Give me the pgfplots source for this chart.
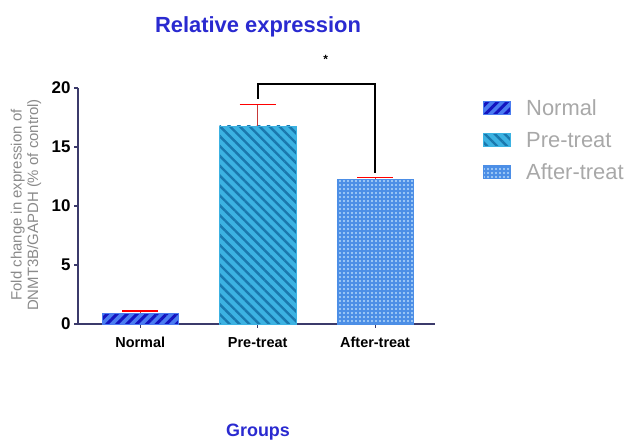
\documentclass[border=0pt]{standalone}
\usepackage{pgfplots}
\pgfplotsset{compat=1.18}
\usepackage{fontspec}
\setmainfont{Liberation Sans}
\usetikzlibrary{patterns,patterns.meta}

\definecolor{axisc}{HTML}{3B3A6B}
\definecolor{titleblue}{HTML}{2A2AD0}
\definecolor{normfill}{HTML}{4A7CF0}
\definecolor{normline}{HTML}{1414C0}
\definecolor{prefill}{HTML}{3CB2E2}
\definecolor{preline}{HTML}{1A78AE}
\definecolor{aftfill}{HTML}{4C8EE6}
\definecolor{aftdot}{HTML}{B4D8FA}
\definecolor{labgray}{HTML}{8A8A8A}
\definecolor{leggray}{HTML}{A8A8A8}

\begin{document}
\begin{tikzpicture}[x=1bp,y=1bp]
\useasboundingbox (0,0) rectangle (628,441);

\node[font=\bfseries\fontsize{22}{25}\selectfont, text=titleblue] at (258,414) {Relative expression};
\node[font=\bfseries\fontsize{18}{20}\selectfont, text=titleblue, inner sep=0pt, anchor=base] at (258,4) {Groups};
\node[rotate=90, align=center, text=labgray, font=\fontsize{15}{16.5}\selectfont] at (26,236)
  {Fold change in expression of\\DNMT3B/GAPDH (\% of control)};

\begin{axis}[
  at={(78bp,117bp)}, anchor=south west,
  scale only axis, width=357bp, height=236bp,
  xmin=-0.53, xmax=2.51, ymin=0, ymax=20,
  axis x line=bottom, axis y line=left,
  axis line style={-, axisc, line width=1.6pt},
  every tick/.style={axisc, line width=1.2pt},
  tick align=outside, major tick length=4pt,
  xtick={0,1,2}, xticklabels={Normal,Pre-treat,After-treat},
  ytick={0,5,10,15,20},
  /pgf/number format/assume math mode=true,
  x tick label style={font=\bfseries\fontsize{14.5}{16}\selectfont, yshift=-6bp},
  y tick label style={font=\bfseries\fontsize{17}{19}\selectfont},
  ybar, bar width=0.65, bar shift=0pt,
  clip=false,
  legend style={at={(1.125,0.968)}, anchor=north west, draw=none, fill=none,
    font=\fontsize{22}{24}\selectfont, text=leggray, row sep=11pt},
  legend cell align=left,
  legend image code/.code={\draw[#1] (0bp,-6bp) rectangle (27bp,7bp); \path (41bp,0bp);},
  error bars/y dir=plus, error bars/y explicit,
  error bars/error bar style={color=red!55!gray, line width=1pt},
  error bars/error mark options={red, line width=1.2pt, mark size=18bp, rotate=90},
]
\addplot[fill=normfill, draw=normfill,
  postaction={pattern={Lines[angle=45,distance=7bp,line width=3bp]}, pattern color=normline}]
  coordinates {(0,0.93) +- (0,0.17)};
\addplot[fill=prefill, draw=prefill,
  postaction={pattern={Lines[angle=-45,distance=7bp,line width=2.4bp]}, pattern color=preline}]
  coordinates {(1,16.8) +- (0,1.8)};
\addplot[fill=aftfill, draw=aftfill,
  postaction={pattern={Dots[distance=4bp,radius=1.1bp]}, pattern color=aftdot}]
  coordinates {(2,12.3) +- (0,0.12)};
\legend{Normal,Pre-treat,After-treat}

\draw[black, line width=2pt] (axis cs:1,19.1) -- (axis cs:1,20.3) -- (axis cs:2,20.3) -- (axis cs:2,12.8);
\node[font=\bfseries\fontsize{12}{14}\selectfont] at (axis cs:1.58,22.4) {*};
\end{axis}
\end{tikzpicture}
\end{document}
